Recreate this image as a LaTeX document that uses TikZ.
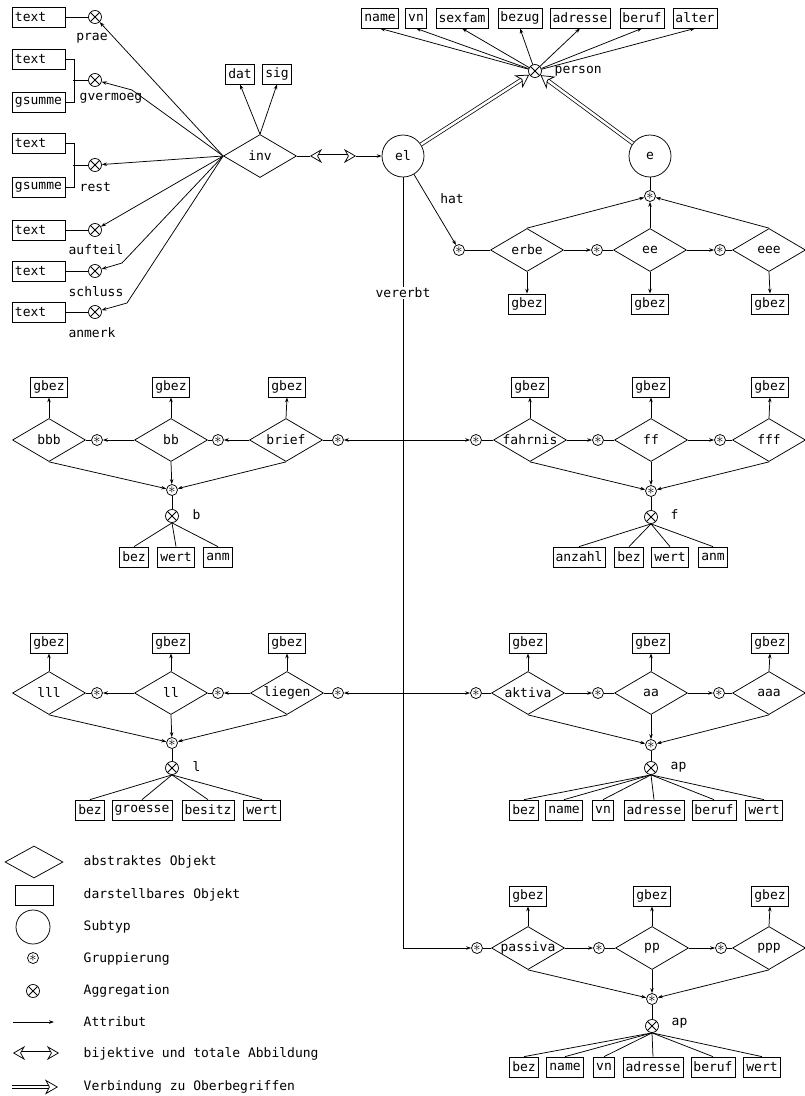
\documentclass[tikz,border=0pt]{standalone}
\usepackage{fontspec}
\setmonofont{DejaVu Sans Mono}
\usetikzlibrary{shapes.geometric,arrows.meta}

\tikzset{
  every node/.style={font=\ttfamily\fontsize{13}{15}\selectfont},
  obj/.style={draw, diamond, aspect=1.7, minimum width=73pt, minimum height=43pt, inner sep=-2pt},
  val/.style={draw, rectangle, minimum height=20pt, inner xsep=2.5pt, inner ysep=0pt},
  txt/.style={val, text width=48pt, align=left},
  sub/.style={draw, circle, minimum size=42pt, inner sep=0pt},
  grp/.style={draw, circle, minimum size=11pt, inner sep=0pt, font=\fontsize{14}{14}\selectfont},
  aggr/.style={draw, circle, minimum size=13pt, inner sep=0pt,
    path picture={\draw (path picture bounding box.north west) -- (path picture bounding box.south east)
      (path picture bounding box.south west) -- (path picture bounding box.north east);}},
  attr/.style={-{Stealth[length=5pt,width=3.5pt]}},
  oben/.style={double, double distance=2.5pt, -{Stealth[open, length=13pt, width=15pt, inset=4pt]}},
  bij/.style={double, double distance=3pt, {Stealth[open, length=12pt, width=14pt, inset=4pt]}-{Stealth[open, length=12pt, width=14pt, inset=4pt]}}
}

\begin{document}
\begin{tikzpicture}[x=1pt,y=-1pt,line width=0.75pt]
\useasboundingbox (0,0) rectangle (805,1096);

% inventar
\node[obj] (inv) at (260,156) {inv};
\node[val] (dat) at (240,74) {dat};
\node[val] (sig) at (277,74) {sig};
\draw[attr] (inv.north) -- (dat.south);
\draw[attr] (inv.north) -- (sig.south);

\node[txt] (t1) at (39,17) {text};
\node[aggr] (prae) at (95,17) {};
\node at (92,38) {prae};
\draw (t1) -- (prae);

\node[txt] (t2) at (39,59) {text};
\node[txt] (g2) at (39,102) {gsumme};
\node[aggr] (gverm) at (95,80) {};
\node[anchor=west] at (76,98) {gvermoeg};
\draw (t2.east) -- ++(8,0) |- (g2.east);
\coordinate (k2) at (73,80);
\draw (k2) -- (gverm);

\node[txt] (t3) at (39,143) {text};
\node[txt] (g3) at (39,187) {gsumme};
\node[aggr] (rest) at (95,165) {};
\node[anchor=west] at (76,187) {rest};
\draw (t3.east) -- ++(8,0) |- (g3.east);
\coordinate (k3) at (73,165);
\draw (k3) -- (rest);

\node[txt] (t4) at (39,230) {text};
\node[aggr] (aufteil) at (95,230) {};
\node at (96,250) {aufteil};
\draw (t4) -- (aufteil);

\node[txt] (t5) at (39,271) {text};
\node[aggr] (schluss) at (95,271) {};
\node at (96,292) {schluss};
\draw (t5) -- (schluss);

\node[txt] (t6) at (39,312) {text};
\node[aggr] (anmerk) at (95,312) {};
\node at (92,333) {anmerk};
\draw (t6) -- (anmerk);

\draw[attr] (inv.west) -- (prae);
\draw[attr] (inv.west) -- (132,90) -- (gverm);
\draw[attr] (inv.west) -- (rest);
\draw[attr] (inv.west) -- (aufteil);
\draw[attr] (inv.west) -- (122,263) -- (schluss);
\draw[attr] (inv.west) -- (127,303) -- (anmerk);

% erblasser, erbe, person
\node[sub] (el) at (403,156) {el};
\node[sub] (e) at (650,156) {e};
\coordinate (bl) at (310,156);
\coordinate (br) at (356,156);
\draw (inv.east) -- (bl);
\draw[bij] (bl) -- (br);
\draw[attr] (br) -- (el);

\node[aggr] (person) at (535,71) {};
\node[anchor=west] at (551,71) {person};
\foreach \w/\x in {name/380,vn/416,sexfam/462,bezug/520,adresse/580,beruf/642,alter/695}
{
  \node[val] (p-\w) at (\x,18) {\w};
  \draw[attr] (person) -- (p-\w.south);
}
\draw[oben] (el) -- (person);
\draw[oben] (e) -- (person);

% erben
\node[grp] (s-e) at (650,196) {$*$};
\draw (e) -- (s-e);
\node[grp] (s-e0) at (459,250) {$*$};
\node[obj] (erbe) at (527,250) {erbe};
\node[grp] (s-e1) at (597,250) {$*$};
\node[obj] (ee) at (650,250) {ee};
\node[grp] (s-e2) at (720,250) {$*$};
\node[obj] (eee) at (769,250) {eee};
\draw[attr] (el) -- (s-e0);
\node at (452,199) {hat};
\draw (s-e0) -- (erbe.west);
\draw[attr] (erbe.east) -- (s-e1);
\draw (s-e1) -- (ee.west);
\draw[attr] (ee.east) -- (s-e2);
\draw (s-e2) -- (eee.west);
\draw[attr] (erbe.north) -- (s-e);
\draw[attr] (ee.north) -- (s-e);
\draw[attr] (eee.north) -- (s-e);
\foreach \o/\x in {erbe/527,ee/650,eee/770}
{
  \node[val] (gb-\o) at (\x,304) {gbez};
  \draw[attr] (\o.south) -- (gb-\o.north);
}

% vererbt
\node[grp] (s-p0) at (477,948) {$*$};
\draw[attr] (el) |- (s-p0);
\node[fill=white, inner sep=1pt] at (403,293) {vererbt};

% briefe
\node[obj] (bbb) at (49,440) {bbb};
\node[grp] (s-b2) at (97,440) {$*$};
\node[obj] (bb) at (171,440) {bb};
\node[grp] (s-b1) at (218,440) {$*$};
\node[obj] (brief) at (286,440) {brief};
\node[grp] (s-b0) at (338,440) {$*$};
\coordinate (vb) at (403,440);
\draw[attr] (vb) -- (s-b0);
\draw (s-b0) -- (brief.east);
\draw[attr] (brief.west) -- (s-b1);
\draw (s-b1) -- (bb.east);
\draw[attr] (bb.west) -- (s-b2);
\draw (s-b2) -- (bbb.east);
\foreach \o/\x in {bbb/49,bb/171,brief/287}
{
  \node[val] (gb-\o) at (\x,387) {gbez};
  \draw[attr] (\o.north) -- (gb-\o.south);
}
\node[grp] (s-b) at (172,490) {$*$};
\node[aggr] (a-b) at (172,516) {};
\node[anchor=west] at (189,515) {b};
\draw[attr] (bbb.south) -- (s-b);
\draw[attr] (bb.south) -- (s-b);
\draw[attr] (brief.south) -- (s-b);
\draw (s-b) -- (a-b);
\foreach \w/\x [count=\i] in {bez/134,wert/176,anm/218}
{
  \node[val] (b-\i) at (\x,557) {\w};
  \draw (a-b.south) -- (b-\i.north);
}

% fahrnis
\node[grp] (s-f0) at (476,440) {$*$};
\node[obj] (fahrnis) at (530,440) {fahrnis};
\node[grp] (s-f1) at (598,440) {$*$};
\node[obj] (ff) at (651,440) {ff};
\node[grp] (s-f2) at (720,440) {$*$};
\node[obj] (fff) at (769,440) {fff};
\draw[attr] (vb) -- (s-f0);
\draw (s-f0) -- (fahrnis.west);
\draw[attr] (fahrnis.east) -- (s-f1);
\draw (s-f1) -- (ff.west);
\draw[attr] (ff.east) -- (s-f2);
\draw (s-f2) -- (fff.west);
\foreach \o/\x in {fahrnis/530,ff/651,fff/770}
{
  \node[val] (gb-\o) at (\x,387) {gbez};
  \draw[attr] (\o.north) -- (gb-\o.south);
}
\node[grp] (s-f) at (651,491) {$*$};
\node[aggr] (a-f) at (651,517) {};
\node[anchor=west] at (667,515) {f};
\draw[attr] (fahrnis.south) -- (s-f);
\draw[attr] (ff.south) -- (s-f);
\draw[attr] (fff.south) -- (s-f);
\draw (s-f) -- (a-f);
\foreach \w/\x [count=\i] in {anzahl/579,bez/629,wert/670,anm/713}
{
  \node[val] (f-\i) at (\x,557) {\w};
  \draw (a-f.south) -- (f-\i.north);
}

% liegenschaften
\node[obj] (lll) at (49,693) {lll};
\node[grp] (s-l2) at (97,693) {$*$};
\node[obj] (ll) at (171,693) {ll};
\node[grp] (s-l1) at (218,693) {$*$};
\node[obj] (liegen) at (287,693) {liegen};
\node[grp] (s-l0) at (338,693) {$*$};
\coordinate (vl) at (403,693);
\draw[attr] (vl) -- (s-l0);
\draw (s-l0) -- (liegen.east);
\draw[attr] (liegen.west) -- (s-l1);
\draw (s-l1) -- (ll.east);
\draw[attr] (ll.west) -- (s-l2);
\draw (s-l2) -- (lll.east);
\foreach \o/\x in {lll/49,ll/171,liegen/287}
{
  \node[val] (gb-\o) at (\x,643) {gbez};
  \draw[attr] (\o.north) -- (gb-\o.south);
}
\node[grp] (s-l) at (172,743) {$*$};
\node[aggr] (a-l) at (172,768) {};
\node[anchor=west] at (189,767) {l};
\draw[attr] (lll.south) -- (s-l);
\draw[attr] (ll.south) -- (s-l);
\draw[attr] (liegen.south) -- (s-l);
\draw (s-l) -- (a-l);
\foreach \w/\x [count=\i] in {bez/90,groesse/142,besitz/208,wert/262}
{
  \node[val] (l-\i) at (\x,810) {\w};
  \draw (a-l.south) -- (l-\i.north);
}

% aktiva
\node[grp] (s-a0) at (476,693) {$*$};
\node[obj] (aktiva) at (528,693) {aktiva};
\node[grp] (s-a1) at (598,693) {$*$};
\node[obj] (aa) at (651,693) {aa};
\node[grp] (s-a2) at (719,693) {$*$};
\node[obj] (aaa) at (769,693) {aaa};
\draw[attr] (vl) -- (s-a0);
\draw (s-a0) -- (aktiva.west);
\draw[attr] (aktiva.east) -- (s-a1);
\draw (s-a1) -- (aa.west);
\draw[attr] (aa.east) -- (s-a2);
\draw (s-a2) -- (aaa.west);
\foreach \o/\x in {aktiva/528,aa/651,aaa/770}
{
  \node[val] (gb-\o) at (\x,643) {gbez};
  \draw[attr] (\o.north) -- (gb-\o.south);
}
\node[grp] (s-a) at (651,745) {$*$};
\node[aggr] (a-a) at (651,768) {};
\node[anchor=west] at (667,767) {ap};
\draw[attr] (aktiva.south) -- (s-a);
\draw[attr] (aa.south) -- (s-a);
\draw[attr] (aaa.south) -- (s-a);
\draw (s-a) -- (a-a);
\foreach \w/\x [count=\i] in {bez/524,name/564,vn/603,adresse/654,beruf/714,wert/764}
{
  \node[val] (a-\i) at (\x,810) {\w};
  \draw (a-a.south) -- (a-\i.north);
}

% passiva
\node[obj] (passiva) at (528,948) {passiva};
\node[grp] (s-p1) at (599,948) {$*$};
\node[obj] (pp) at (652,948) {pp};
\node[grp] (s-p2) at (721,948) {$*$};
\node[obj] (ppp) at (769,948) {ppp};
\draw (s-p0) -- (passiva.west);
\draw[attr] (passiva.east) -- (s-p1);
\draw (s-p1) -- (pp.west);
\draw[attr] (pp.east) -- (s-p2);
\draw (s-p2) -- (ppp.west);
\foreach \o/\x in {passiva/528,pp/652,ppp/770}
{
  \node[val] (gb-\o) at (\x,896) {gbez};
  \draw[attr] (\o.north) -- (gb-\o.south);
}
\node[grp] (s-p) at (652,999) {$*$};
\node[aggr] (a-p) at (652,1026) {};
\node[anchor=west] at (668,1023) {ap};
\draw[attr] (passiva.south) -- (s-p);
\draw[attr] (pp.south) -- (s-p);
\draw[attr] (ppp.south) -- (s-p);
\draw (s-p) -- (a-p);
\foreach \w/\x [count=\i] in {bez/524,name/565,vn/604,adresse/653,beruf/713,wert/762}
{
  \node[val] (p-\i) at (\x,1067) {\w};
  \draw (a-p.south) -- (p-\i.north);
}

% legende
\node[obj, minimum width=58pt, minimum height=32pt] (lg1) at (34,862) {};
\node[val, minimum width=38pt] (lg2) at (34,895) {};
\node[sub, minimum size=34pt] (lg3) at (33,927) {};
\node[grp] (lg4) at (33,958) {$*$};
\node[aggr] (lg5) at (33,991) {};
\coordinate (lg6a) at (13,1022);
\coordinate (lg6b) at (54,1022);
\draw[attr] (lg6a) -- (lg6b);
\coordinate (lg7a) at (13,1053);
\coordinate (lg7b) at (59,1053);
\draw[bij] (lg7a) -- (lg7b);
\coordinate (lg8a) at (12,1087);
\coordinate (lg8b) at (58,1087);
\draw[oben] (lg8a) -- (lg8b);
\node[anchor=west] at (80,862) {abstraktes Objekt};
\node[anchor=west] at (80,895) {darstellbares Objekt};
\node[anchor=west] at (80,927) {Subtyp};
\node[anchor=west] at (80,959) {Gruppierung};
\node[anchor=west] at (80,991) {Aggregation};
\node[anchor=west] at (80,1022) {Attribut};
\node[anchor=west] at (80,1054) {bijektive und totale Abbildung};
\node[anchor=west] at (80,1087) {Verbindung zu Oberbegriffen};
\end{tikzpicture}
\end{document}
